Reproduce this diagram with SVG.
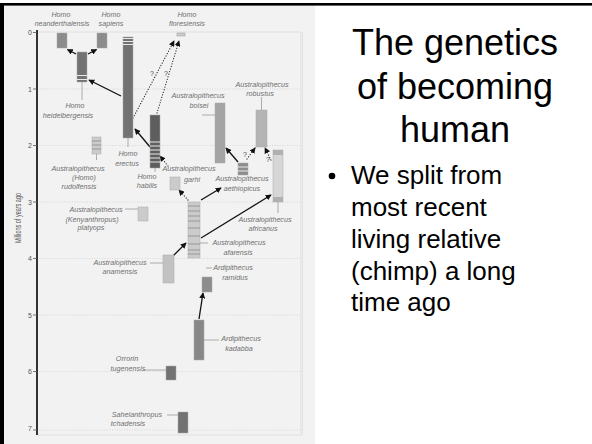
<svg xmlns="http://www.w3.org/2000/svg" width="592" height="444" viewBox="0 0 592 444">
<style>
.lbl{font-family:"Liberation Sans",Arial,sans-serif;font-style:italic;font-size:7.2px;fill:#707070;text-anchor:middle}
.tick{font-family:"Liberation Sans",Arial,sans-serif;font-size:7px;fill:#555;text-anchor:end}
.grid{stroke:#cfcfcf;stroke-width:0.8;stroke-dasharray:1 1.5}
.lead{stroke:#9a9a9a;stroke-width:0.8;fill:none}
.arr{stroke:#111;stroke-width:1.3;fill:none;marker-end:url(#ah)}
.dot{stroke:#222;stroke-width:1.2;fill:none;stroke-dasharray:0.1 2.6;stroke-linecap:round;marker-end:url(#ah)}
.q{font-family:"Liberation Sans",Arial,sans-serif;font-size:7px;fill:#444;text-anchor:middle}
.bar{stroke:#aaa;stroke-width:0.5}
.dk{fill:#727272}.md{fill:#8c8c8c}.mm{fill:#a4a4a4}.lt{fill:#cbcbcb}
.sl{stroke:#e8e8e8;stroke-width:1}
.sd{stroke:#8a8a8a;stroke-width:0.8}
.title{font-family:"Liberation Sans",Arial,sans-serif;font-size:36px;fill:#000;text-anchor:middle}
.body{font-family:"Liberation Sans",Arial,sans-serif;font-size:26px;fill:#000}
</style>
<defs>
<marker id="ah" viewBox="0 0 8 8" refX="7" refY="4" markerWidth="6" markerHeight="6" markerUnits="userSpaceOnUse" orient="auto">
<path d="M0,0 L8,4 L0,8 z" fill="#111"/>
</marker>
</defs>
<rect x="0" y="0" width="592" height="444" fill="#fff"/>
<rect x="4" y="5" width="311" height="439" fill="#f2f2f2"/>
<rect x="0" y="3" width="592" height="2.6" fill="#000"/>
<rect x="0" y="3" width="4" height="441" fill="#000"/>

<g id="chart-frame">
<rect x="37" y="32" width="264" height="403" fill="none" stroke="#dddddd" stroke-width="0.8"/>
<line x1="302.5" y1="32" x2="302.5" y2="435" stroke="#dddddd" stroke-width="0.8"/>
<line class="grid" x1="37" y1="89" x2="300" y2="89"/>
<line class="grid" x1="37" y1="145.5" x2="300" y2="145.5"/>
<line class="grid" x1="37" y1="202" x2="300" y2="202"/>
<line class="grid" x1="37" y1="258.5" x2="300" y2="258.5"/>
<line class="grid" x1="37" y1="315" x2="300" y2="315"/>
<line class="grid" x1="37" y1="371.5" x2="300" y2="371.5"/>
<line class="grid" x1="37" y1="430" x2="300" y2="430"/>
</g>

<g id="axis">
<line x1="37" y1="30" x2="37" y2="435" stroke="#333" stroke-width="2"/>
<g stroke="#555" stroke-width="0.8">
<line x1="33" y1="32.5" x2="37" y2="32.5"/><line x1="33" y1="89" x2="37" y2="89"/><line x1="33" y1="145.5" x2="37" y2="145.5"/><line x1="33" y1="202" x2="37" y2="202"/><line x1="33" y1="258.5" x2="37" y2="258.5"/><line x1="33" y1="315" x2="37" y2="315"/><line x1="33" y1="371.5" x2="37" y2="371.5"/><line x1="33" y1="430" x2="37" y2="430"/>
</g>
<text class="tick" x="32" y="34.5">0</text>
<text class="tick" x="32" y="91.5">1</text>
<text class="tick" x="32" y="148">2</text>
<text class="tick" x="32" y="204.5">3</text>
<text class="tick" x="32" y="261">4</text>
<text class="tick" x="32" y="317.5">5</text>
<text class="tick" x="32" y="374">6</text>
<text class="tick" x="32" y="430.5">7</text>
<text x="21" y="218" transform="rotate(-90 21 218)" font-family="Liberation Sans, Arial, sans-serif" font-size="8.5px" fill="#555" text-anchor="middle" textLength="50" lengthAdjust="spacingAndGlyphs">Millions of years ago</text>
</g>

<g id="connectors">
<line class="arr" x1="76" y1="54" x2="67.5" y2="49.5"/>
<line class="arr" x1="88" y1="54" x2="96.5" y2="49.5"/>
<line class="arr" x1="121" y1="96" x2="89" y2="80"/>
<line class="arr" x1="150" y1="147" x2="135" y2="129"/>
<line class="arr" x1="201" y1="200" x2="221" y2="188"/>
<line class="arr" x1="201" y1="238" x2="271" y2="195"/>
<line class="arr" x1="173" y1="256" x2="186" y2="243"/>
<line class="arr" x1="199" y1="319" x2="203" y2="293"/>
<line class="arr" x1="238" y1="162" x2="226" y2="148"/>
<line class="dot" x1="133" y1="118" x2="174" y2="41"/>
<line class="dot" x1="157" y1="113" x2="179" y2="41"/>
<line class="dot" x1="168" y1="166" x2="160" y2="156"/>
<line class="dot" x1="188" y1="200" x2="179" y2="190"/>
<line class="dot" x1="247" y1="159" x2="255" y2="148"/>
<line class="dot" x1="271" y1="160" x2="265" y2="148"/>
<text class="q" x="152" y="76">?</text>
<text class="q" x="166" y="76">?</text>
<text class="q" x="245" y="157">?</text>
<text class="q" x="268" y="162">?</text>
</g>

<g id="homo-neanderthalensis">
<rect class="bar md" x="57" y="33" width="10" height="15"/>
<line class="sd" x1="62" y1="33" x2="62" y2="48"/>
<text class="lbl" x="61" y="17">Homo</text>
<text class="lbl" x="62" y="26">neanderthalensis</text>
</g>
<g id="homo-sapiens">
<rect class="bar md" x="97" y="33" width="10" height="15"/>
<line class="sd" x1="102" y1="33" x2="102" y2="48"/>
<text class="lbl" x="111" y="17">Homo</text>
<text class="lbl" x="111" y="26">sapiens</text>
</g>
<g id="homo-floresiensis">
<rect class="lt" x="177" y="33" width="8" height="3" stroke="#999" stroke-width="0.5"/>
<text class="lbl" x="187" y="17">Homo</text>
<text class="lbl" x="187" y="26">floresiensis</text>
</g>
<g id="homo-heidelbergensis">
<rect class="bar dk" x="77" y="52" width="10" height="30"/>
<line class="sl" x1="77" y1="75.5" x2="87" y2="75.5"/>
<line class="sl" x1="77" y1="79.5" x2="87" y2="79.5"/>
<line class="lead" x1="82" y1="82" x2="82" y2="100"/>
<text class="lbl" x="75" y="108">Homo</text>
<text class="lbl" x="68" y="118">heidelbergensis</text>
</g>
<g id="homo-erectus">
<rect class="bar dk" x="123" y="37" width="10" height="101"/>
<line class="sl" x1="123" y1="38.5" x2="133" y2="38.5"/>
<line class="sl" x1="123" y1="41.5" x2="133" y2="41.5"/>
<line class="sl" x1="123" y1="44.5" x2="133" y2="44.5"/>
<line class="lead" x1="128" y1="138" x2="128" y2="147"/>
<text class="lbl" x="128" y="156">Homo</text>
<text class="lbl" x="127" y="166">erectus</text>
</g>
<g id="homo-habilis">
<rect class="bar" fill="#5e5e5e" x="150" y="115" width="10" height="53"/>
<g class="sl"><line x1="150" y1="142" x2="160" y2="142"/><line x1="150" y1="146" x2="160" y2="146"/><line x1="150" y1="150" x2="160" y2="150"/><line x1="150" y1="154" x2="160" y2="154"/><line x1="150" y1="158" x2="160" y2="158"/><line x1="150" y1="162" x2="160" y2="162"/></g>
<line class="lead" x1="155" y1="168" x2="155" y2="172"/>
<text class="lbl" x="147" y="179">Homo</text>
<text class="lbl" x="147" y="188">habilis</text>
</g>
<g id="australopithecus-rudolfensis">
<rect class="bar lt" x="92" y="137" width="9" height="17"/>
<g class="sd"><line x1="92" y1="141" x2="101" y2="141"/><line x1="92" y1="145" x2="101" y2="145"/><line x1="92" y1="149" x2="101" y2="149"/></g>
<line class="lead" x1="96.5" y1="154" x2="96.5" y2="160"/>
<text class="lbl" x="78" y="171">Australopithecus</text>
<text class="lbl" x="84" y="180">(Homo)</text>
<text class="lbl" x="79" y="189">rudolfensis</text>
</g>
<g id="australopithecus-platyops">
<rect class="bar lt" x="138" y="207" width="10" height="14"/>
<line class="lead" x1="125" y1="209" x2="138" y2="209"/>
<text class="lbl" x="96" y="212">Australopithecus</text>
<text class="lbl" x="92" y="222">(Kenyanthropus)</text>
<text class="lbl" x="91" y="230">platyops</text>
</g>
<g id="australopithecus-anamensis">
<rect class="bar" fill="#c2c2c2" x="163" y="255" width="11" height="28"/>
<line class="lead" x1="150" y1="263" x2="163" y2="263"/>
<text class="lbl" x="120" y="265">Australopithecus</text>
<text class="lbl" x="120" y="274">anamensis</text>
</g>
<g id="australopithecus-afarensis">
<rect class="bar lt" x="188" y="202" width="12" height="56"/>
<g class="sd"><line x1="188" y1="206" x2="200" y2="206"/><line x1="188" y1="211" x2="200" y2="211"/><line x1="188" y1="216" x2="200" y2="216"/><line x1="188" y1="221" x2="200" y2="221"/><line x1="188" y1="228" x2="200" y2="228"/><line x1="188" y1="236" x2="200" y2="236"/><line x1="188" y1="244" x2="200" y2="244"/><line x1="188" y1="250" x2="200" y2="250"/><line x1="188" y1="254" x2="200" y2="254"/></g>
<line class="lead" x1="200" y1="243" x2="208" y2="243"/>
<text class="lbl" x="239" y="245">Australopithecus</text>
<text class="lbl" x="238" y="255">afarensis</text>
</g>
<g id="australopithecus-garhi">
<rect class="bar lt" x="170" y="177" width="10" height="13"/>
<text class="lbl" x="189" y="171">Australopithecus</text>
<text class="lbl" x="192" y="182">garhi</text>
</g>
<g id="australopithecus-aethiopicus">
<rect class="bar md" x="238" y="163" width="10" height="12"/>
<line class="sl" x1="238" y1="167" x2="248" y2="167"/>
<line class="sl" x1="238" y1="171" x2="248" y2="171"/>
<text class="lbl" x="242" y="181">Australopithecus</text>
<text class="lbl" x="242" y="191">aethiopicus</text>
</g>
<g id="australopithecus-boisei">
<rect class="bar mm" x="215" y="103" width="10" height="60"/>
<line class="lead" x1="202" y1="115" x2="215" y2="115"/>
<text class="lbl" x="198" y="98">Australopithecus</text>
<text class="lbl" x="199" y="108">boisei</text>
</g>
<g id="australopithecus-robustus">
<rect class="bar" fill="#b4b4b4" x="256" y="110" width="11" height="37"/>
<line class="lead" x1="261.5" y1="97" x2="261.5" y2="110"/>
<text class="lbl" x="262" y="87">Australopithecus</text>
<text class="lbl" x="260" y="96">robustus</text>
</g>
<g id="australopithecus-africanus">
<rect class="bar" fill="#d6d6d6" x="273" y="150" width="10" height="52"/>
<rect fill="#b0b0b0" x="273" y="150" width="10" height="5"/>
<rect fill="#b0b0b0" x="273" y="197" width="10" height="5"/>
<line class="lead" x1="278" y1="202" x2="278" y2="213"/>
<text class="lbl" x="265" y="222">Australopithecus</text>
<text class="lbl" x="263" y="231">africanus</text>
</g>
<g id="ardipithecus-ramidus">
<rect class="bar md" x="202" y="277" width="10" height="15"/>
<line class="lead" x1="206" y1="268" x2="212" y2="268"/>
<text class="lbl" x="233" y="270">Ardipithecus</text>
<text class="lbl" x="235" y="280">ramidus</text>
</g>
<g id="ardipithecus-kadabba">
<rect class="bar" fill="#888" x="194" y="320" width="10" height="40"/>
<line class="lead" x1="204" y1="340" x2="219" y2="340"/>
<text class="lbl" x="241" y="341">Ardipithecus</text>
<text class="lbl" x="239" y="351">kadabba</text>
</g>
<g id="orrorin-tugenensis">
<rect class="bar dk" x="166" y="366" width="10" height="14"/>
<line class="lead" x1="143" y1="370" x2="166" y2="370"/>
<text class="lbl" x="127" y="361">Orrorin</text>
<text class="lbl" x="128" y="371">tugenensis</text>
</g>
<g id="sahelanthropus-tchadensis">
<rect class="bar dk" x="178" y="412" width="10" height="21"/>
<line class="lead" x1="167" y1="415" x2="178" y2="415"/>
<text class="lbl" x="137" y="417">Sahelanthropus</text>
<text class="lbl" x="128" y="426">tchadensis</text>
</g>

<g id="slide-text">
<text class="title" x="455" y="55">The genetics</text>
<text class="title" x="455" y="98.5">of becoming</text>
<text class="title" x="455" y="142">human</text>
<circle cx="332" cy="176" r="3.3" fill="#000"/>
<text class="body" x="351" y="184">We split from</text>
<text class="body" x="351" y="216">most recent</text>
<text class="body" x="351" y="248">living relative</text>
<text class="body" x="351" y="279.5">(chimp) a long</text>
<text class="body" x="351" y="311">time ago</text>
</g>
</svg>
